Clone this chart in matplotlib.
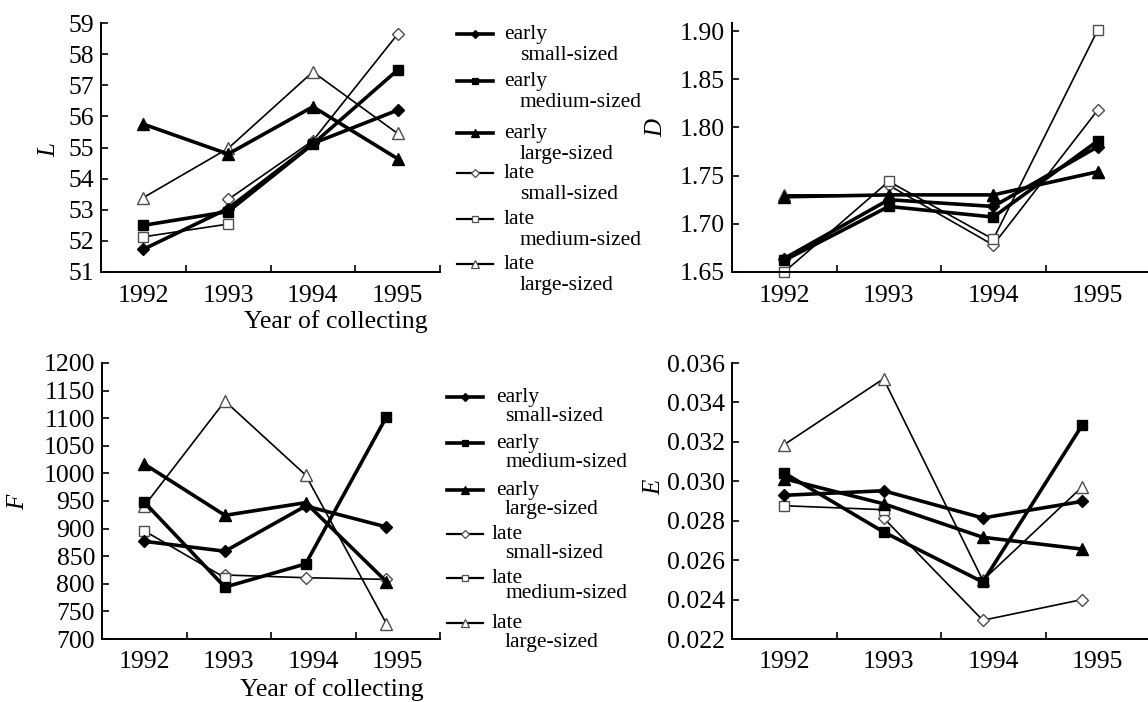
import numpy as np
import matplotlib
matplotlib.use('Agg')
import matplotlib.pyplot as plt

plt.rcParams['font.family'] = ['Liberation Serif', 'DejaVu Serif']

nan = np.nan

# data
years = ['1992', '1993', '1994', '1995']
labels_first = ['early', 'early', 'early', 'late', 'late', 'late']
labels_second = ['small-sized', 'medium-sized', 'large-sized',
                 'small-sized', 'medium-sized', 'large-sized']

# L panel
L_early_small = [51.73, 53.04, 55.13, 56.2]
L_early_medium = [52.5, 52.94, 55.11, 57.49]
L_early_large = [55.75, 54.79, 56.31, 54.64]
L_late_small = [nan, 53.33, 55.22, 58.64]
L_late_medium = [52.13, 52.54, nan, nan]
L_late_large = [53.39, 54.97, 57.43, 55.45]
L_ticks = [51, 52, 53, 54, 55, 56, 57, 58, 59]

# D panel
D_early_small = [1.664, 1.725, 1.718, 1.780]
D_early_medium = [1.662, 1.718, 1.707, 1.786]
D_early_large = [1.728, 1.730, 1.730, 1.754]
D_late_small = [nan, 1.740, 1.678, 1.818]
D_late_medium = [1.650, 1.744, 1.684, 1.901]
D_late_large = [1.730, 1.730, 1.730, 1.754]
D_ticks = [1.65, 1.70, 1.75, 1.80, 1.85, 1.90]

# F panel
F_early_small = [877, 859, 941, 903]
F_early_medium = [948, 794, 836, 1102]
F_early_large = [1017, 924, 947, 804]
F_late_small = [nan, 816, 811, 808]
F_late_medium = [896, 811, nan, nan]
F_late_large = [941, 1131, 997, 728]
F_ticks = [700, 750, 800, 850, 900, 950, 1000, 1050, 1100, 1150, 1200]

# E panel
E_early_small = [0.02929, 0.02952, 0.02814, 0.02898]
E_early_medium = [0.03042, 0.02743, 0.02489, 0.03284]
E_early_large = [0.03013, 0.02886, 0.02716, 0.02656]
E_late_small = [nan, 0.02814, 0.02295, 0.02400]
E_late_medium = [0.02876, 0.02856, nan, nan]
E_late_large = [0.03186, 0.03520, 0.02498, 0.02971]
E_ticks = [0.022, 0.024, 0.026, 0.028, 0.030, 0.032, 0.034, 0.036]

# styles: marker, filled, linewidth, markersize
styles = [('D', True, 2.6, 6.0), ('s', True, 2.6, 6.5), ('^', True, 2.6, 8.0),
          ('D', False, 1.2, 6.0), ('s', False, 1.2, 7.0), ('^', False, 1.2, 9.0)]

W, H = 1148, 702
fig = plt.figure(figsize=(W / 100, H / 100), dpi=100)
fig.patch.set_facecolor('white')


def px_axes(left, top, right, bottom):
    return fig.add_axes([left / W, 1 - bottom / H, (right - left) / W, (bottom - top) / H])


def draw_panel(ax, series, ticks, fmt, ylim, spacing):
    x = np.arange(len(years)) * spacing
    order = [3, 4, 5, 0, 1, 2]  # late ones underneath
    for i in order:
        m, filled, lw, ms = styles[i]
        y = np.array(series[i], dtype=float)
        ax.plot(x, y, color='black', lw=lw, marker=m, ms=ms,
                mfc='black' if filled else 'white',
                mec='black' if filled else '0.3',
                mew=1.0, zorder=3 if filled else 2, clip_on=False)
    ax.set_xlim(-0.5, 3.5)
    ax.set_ylim(*ylim)
    ax.set_yticks(ticks)
    ax.set_yticklabels([fmt.format(t) for t in ticks])
    ax.set_xticks(np.arange(len(years)))
    ax.set_xticklabels(years)
    ax.set_xticks([0.5, 1.5, 2.5, 3.5], minor=True)
    ax.tick_params(axis='x', which='major', length=0, pad=9, labelsize=18.5)
    ax.tick_params(axis='x', which='minor', direction='in', length=5, width=1.2)
    ax.tick_params(axis='y', direction='in', length=5, width=1.2, pad=5, labelsize=18.5)
    for s in ['top', 'right']:
        ax.spines[s].set_visible(False)
    for s in ['left', 'bottom']:
        ax.spines[s].set_linewidth(1.4)
    ax.patch.set_alpha(0)


ax_L = px_axes(101, 23, 440, 272)
draw_panel(ax_L, [L_early_small, L_early_medium, L_early_large, L_late_small, L_late_medium, L_late_large],
           L_ticks, '{:.0f}', (51, 59), 1.0)

ax_D = px_axes(732, 23, 1150, 272)
draw_panel(ax_D, [D_early_small, D_early_medium, D_early_large, D_late_small, D_late_medium, D_late_large],
           D_ticks, '{:.2f}', (1.65, 1.9083), 1.0)

ax_F = px_axes(102, 363, 440, 639)
draw_panel(ax_F, [F_early_small, F_early_medium, F_early_large, F_late_small, F_late_medium, F_late_large],
           F_ticks, '{:.0f}', (700, 1200), 0.955)

ax_E = px_axes(732, 363, 1150, 639)
draw_panel(ax_E, [E_early_small, E_early_medium, E_early_large, E_late_small, E_late_medium, E_late_large],
           E_ticks, '{:.3f}', (0.022, 0.036), 0.95)

# overlay for texts and legends, in pixel coordinates
ov = fig.add_axes([0, 0, 1, 1])
ov.set_xlim(0, W)
ov.set_ylim(H, 0)
ov.axis('off')

ov.text(49, 150, 'L', rotation=90, style='italic', fontsize=18, ha='center', va='center')
ov.text(656, 128, 'D', rotation=90, style='italic', fontsize=18, ha='center', va='center')
ov.text(18, 502, 'F', rotation=90, style='italic', fontsize=18, ha='center', va='center')
ov.text(654, 487, 'E', rotation=90, style='italic', fontsize=18, ha='center', va='center')

ov.text(336, 322, 'Year of collecting', fontsize=18.5, ha='center', va='center')
ov.text(332, 690, 'Year of collecting', fontsize=18.5, ha='center', va='center')


def draw_legend(handle_y, x0, x1, text_x, text2_x, second_off):
    for i in range(6):
        m, filled, lw, ms = styles[i]
        y = handle_y[i]
        ov.plot([x0, (x0 + x1) / 2, x1], [y, y, y], color='black',
                lw=2.6 if filled else 1.6, marker=m, markevery=[1],
                ms=ms * 0.7, mfc='black' if filled else 'white',
                mec='black' if filled else '0.3', mew=0.9)
        ov.text(text_x[i], y + 5, labels_first[i], fontsize=15.5, ha='left', va='baseline')
        ov.text(text2_x, y + second_off[i], labels_second[i], fontsize=15.5, ha='left', va='baseline')


draw_legend([34, 81, 133, 173, 219, 264], 457, 493,
            [504, 504, 504, 504, 504, 504], 520, [26, 26, 26, 26, 26, 26])
draw_legend([397, 443, 490, 534, 578, 623], 447, 483,
            [496, 496, 496, 492, 492, 492], 505, [24, 24, 24, 24, 20, 24])

fig.savefig('out.png', dpi=100)
